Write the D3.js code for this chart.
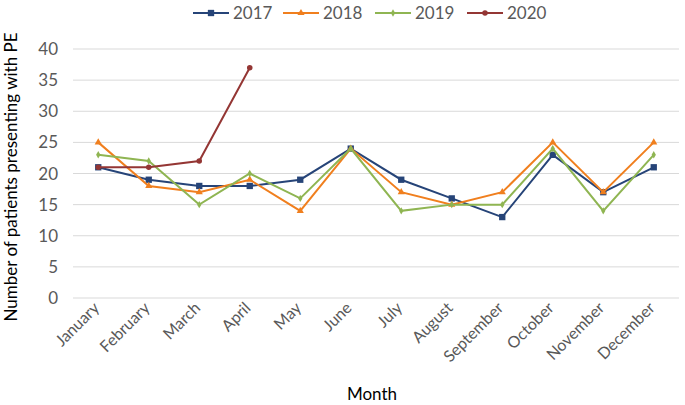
<!DOCTYPE html>
<html lang="en">
<head>
    <script src="https://d3js.org/d3.v7.min.js"></script>
</head>
<style>
    body { margin: 0; background: #fff; }
    text { font-family: Lato, "Open Sans", sans-serif; }
</style>
<body>
<script>
    const w = 685
    const h = 405

    const months = ["January", "February", "March", "April", "May", "June", "July",
        "August", "September", "October", "November", "December"]
    const years = ["2017", "2018", "2019", "2020"]
    const v2017 = [21, 19, 18, 18, 19, 24, 19, 16, 13, 23, 17, 21]
    const v2018 = [25, 18, 17, 19, 14, 24, 17, 15, 17, 25, 17, 25]
    const v2019 = [23, 22, 15, 20, 16, 24, 14, 15, 15, 24, 14, 23]
    const v2020 = [21, 21, 22, 37]
    const yTicks = [0, 5, 10, 15, 20, 25, 30, 35, 40]

    const colors = ["#264478", "#F07F1E", "#8FB552", "#943634"]
    const shapes = [d3.symbolSquare, d3.symbolTriangle, d3.symbolDiamond, d3.symbolCircle]
    const sizes = [40, 22, 16, 24]
    const series = [v2017, v2018, v2019, v2020]

    var svg = d3.select("body").append("svg")
        .attr("width", w)
        .attr("height", h)

    let x = d3.scaleBand().domain(months).range([73, 679])
    let y = d3.scaleLinear().domain([0, 40]).range([298, 49])

    // gridlines
    svg.selectAll(".grid")
        .data(yTicks)
        .enter()
        .append("line")
        .attr("x1", 73).attr("x2", 679)
        .attr("y1", d => y(d)).attr("y2", d => y(d))
        .attr("stroke", "#d9d9d9")
        .attr("stroke-width", 1)

    svg.selectAll(".ytick")
        .data(yTicks)
        .enter()
        .append("text")
        .attr("x", 58)
        .attr("y", d => y(d) + 6)
        .attr("text-anchor", "end")
        .attr("font-size", 17)
        .attr("fill", "#595959")
        .text(d => d)

    svg.selectAll(".xtick")
        .data(months)
        .enter()
        .append("text")
        .attr("transform", d => "translate(" + (x(d) + x.bandwidth() / 2 + 2) + ",309) rotate(-45)")
        .attr("text-anchor", "end")
        .attr("font-size", 16)
        .attr("fill", "#595959")
        .text(d => d)

    svg.append("text")
        .attr("x", 372).attr("y", 400)
        .attr("text-anchor", "middle")
        .attr("font-size", 17)
        .attr("fill", "#000")
        .text("Month")

    svg.append("text")
        .attr("transform", "translate(17,177) rotate(-90)")
        .attr("text-anchor", "middle")
        .attr("font-size", 17)
        .attr("fill", "#000")
        .text("Number of patients presenting with PE")

    const line = d3.line()
        .x((d, i) => x(months[i]) + x.bandwidth() / 2)
        .y(d => y(d))

    series.forEach((vals, k) => {
        svg.append("path")
            .attr("d", line(vals))
            .attr("fill", "none")
            .attr("stroke", colors[k])
            .attr("stroke-width", 2)
        svg.selectAll(".m" + k)
            .data(vals)
            .enter()
            .append("path")
            .attr("d", d3.symbol().type(shapes[k]).size(sizes[k]))
            .attr("transform", (d, i) => "translate(" + (x(months[i]) + x.bandwidth() / 2) + "," + y(d) + ")")
            .attr("fill", colors[k])
    })

    // legend
    const legX = [193, 283, 375, 467]
    years.forEach((yr, k) => {
        let g = svg.append("g").attr("transform", "translate(" + legX[k] + ",13)")
        g.append("line").attr("x1", 0).attr("x2", 36).attr("stroke", colors[k]).attr("stroke-width", 2)
        g.append("path")
            .attr("d", d3.symbol().type(shapes[k]).size(sizes[k]))
            .attr("transform", "translate(18,0)")
            .attr("fill", colors[k])
        g.append("text")
            .attr("x", 40).attr("y", 6)
            .attr("font-size", 17)
            .attr("fill", "#595959")
            .text(yr)
    })
</script>
</body>
</html>
